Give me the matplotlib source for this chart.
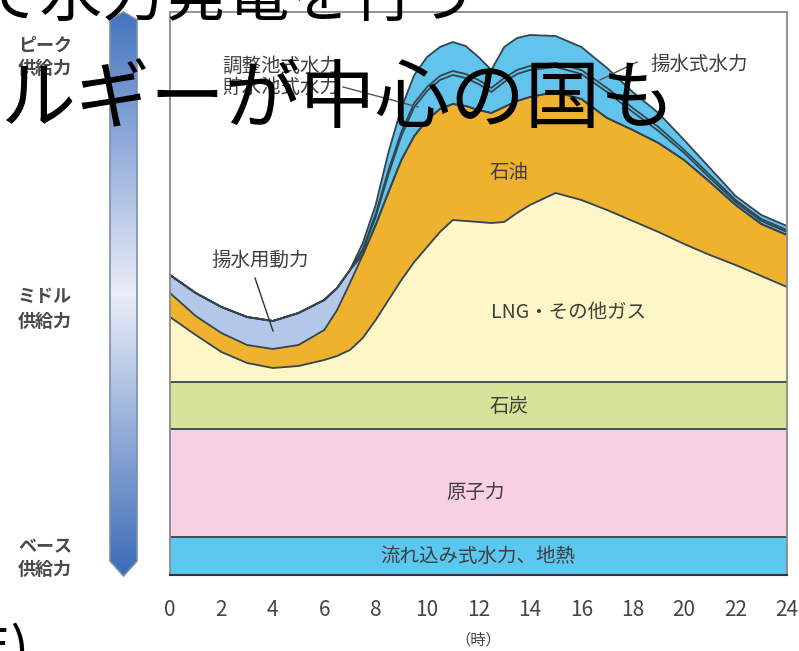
import numpy as np
import matplotlib.pyplot as plt
from matplotlib.patches import Polygon
from matplotlib.colors import LinearSegmentedColormap

plt.rcParams['font.family'] = ['Noto Sans CJK JP', 'DejaVu Sans']

# hour of day
hours = [0, 1, 2, 3, 4, 5, 6, 6.5, 7, 7.5, 8, 8.5, 9, 9.5, 10, 10.5, 11, 11.5,
         12, 12.5, 13, 13.5, 14, 15, 16, 17, 18, 19, 20, 21, 22, 23, 24]

# flat base-load bands (relative units)
run_of_river = 38
nuclear = 108
coal = 47

lng = [65, 47, 30, 19, 14, 16, 22, 26, 32, 44, 62, 82, 102, 120, 135, 150, 162, 161,
       160, 159, 160, 169, 177, 189, 182, 172, 161, 150, 138, 127, 117, 106, 95]
oil = [24, 19, 19, 18, 19, 21, 30, 46, 67, 83, 95, 108, 120, 126, 127, 123, 116, 115,
       112, 110, 115, 112, 108, 101, 101, 92, 91, 89, 84, 73, 60, 52, 52]
pumping_load = [18, 23, 26, 28, 28, 32, 30, 22, 13, 0, 0, 0, 0, 0, 0, 0, 0, 0,
                0, 0, 0, 0, 0, 0, 0, 0, 0, 0, 0, 0, 0, 0, 0]
pondage_hydro = [0, 0, 0, 0, 0, 0, 0, 0, 0, 4, 8, 18, 24, 29, 29, 29, 29, 28,
                 26, 21, 25, 27, 27, 25, 25, 26, 18, 12, 7, 4, 3, 3, 3]
reservoir_hydro = [0, 0, 0, 0, 0, 0, 0, 0, 0, 2, 3, 4, 4, 4, 4, 4, 4, 4,
                   4, 4, 4, 4, 4, 4, 4, 4, 4, 4, 3, 3, 2, 2, 2]
pumped_storage = [0, 0, 0, 0, 0, 0, 0, 0, 0, 6, 9, 18, 24, 28, 30, 29, 29, 28,
                  23, 18, 31, 32, 31, 27, 23, 20, 16, 14, 10, 7, 4, 4, 4]

x_ticks = list(range(0, 25, 2))

n = len(hours)
layers = [np.full(n, run_of_river), np.full(n, nuclear), np.full(n, coal),
          np.array(lng), np.array(oil), np.array(pumping_load),
          np.array(pondage_hydro), np.array(reservoir_hydro), np.array(pumped_storage)]
colors = ['#5cc8f0', '#f8d0e3', '#d3e397', '#fdf6c6', '#eeb22f', '#b3c7e8',
          '#62c4ec', '#62c4ec', '#62c4ec']
edge = '#33454f'

W, H = 799, 651
fig = plt.figure(figsize=(W / 100, H / 100), dpi=100)
ax = fig.add_axes([170 / W, 76 / H, 617 / W, 563 / H])

bottom = np.zeros(n)
for vals, col in zip(layers, colors):
    top = bottom + vals
    ax.fill_between(hours, bottom, top, facecolor=col, edgecolor='none', lw=0)
    ax.plot(hours, top, color=edge, lw=1.3, solid_joinstyle='round')
    bottom = top

ax.set_xlim(0, 24)
ax.set_ylim(0, 563)
ax.set_yticks([])
ax.set_xticks(x_ticks)
ax.tick_params(axis='x', length=0, pad=17, labelsize=15, labelcolor='#444444')
for s in ['left', 'top', 'right']:
    ax.spines[s].set_color('#8a8a8a')
    ax.spines[s].set_linewidth(1.3)
ax.spines['bottom'].set_color('#333333')
ax.spines['bottom'].set_linewidth(1.5)

# overlay in pixel coordinates for decorations and labels
ov = fig.add_axes([0, 0, 1, 1], zorder=5)
ov.set_xlim(0, W)
ov.set_ylim(H, 0)
ov.axis('off')
ov.patch.set_alpha(0)

# supply gradient arrow
cmap = LinearSegmentedColormap.from_list('bar', [(0, '#4474bf'), (0.5, '#eaedf8'), (1, '#3a6bb7')])
grad = np.linspace(0, 1, 256).reshape(-1, 1)
bar = Polygon([(110, 20), (123.5, 12), (137, 20), (137, 561), (123.5, 576), (110, 561)],
              closed=True, facecolor='none', edgecolor='#7f8ea6', lw=1.2)
ov.add_patch(bar)
im = ov.imshow(grad, cmap=cmap, extent=(110, 137, 576, 12), origin='upper', aspect='auto')
im.set_clip_path(bar)

lab = dict(color='#4a4a4a', fontsize=13, ha='center', va='center', fontweight='bold')
for y, t in [(45, 'ピーク'), (68, '供給力'), (296, 'ミドル'), (321, '供給力'),
             (547, 'ベース'), (569, '供給力')]:
    ov.text(45, y, t, **lab)

cl = dict(color='#3e3e3e', fontsize=14, va='center')
ov.text(509, 172, '石油', ha='center', **cl)
ov.text(569, 312, 'LNG・その他ガス', ha='center', **cl)
ov.text(509, 407, '石炭', ha='center', **cl)
ov.text(476, 492, '原子力', ha='center', **cl)
ov.text(478, 556, '流れ込み式水力、地熱', ha='center', **cl)
ov.text(260, 260, '揚水用動力', ha='center', **cl)
ov.text(222, 66, '調整池式水力', ha='left', **cl)
ov.text(222, 87, '貯水池式水力', ha='left', **cl)
ov.text(650, 64, '揚水式水力', ha='left', **cl)
ov.text(478, 640, '（時）', ha='center', va='center', color='#444444', fontsize=11)

ov.plot([255, 273], [278, 331], color='#333333', lw=1)
ov.plot([343, 418], [87, 107], color='#555555', lw=1)
ov.plot([637, 600], [62, 80], color='#555555', lw=1)

# page text overlapping the figure
ov.text(-22, -2, 'て水力発電を行う', fontsize=45, color='black', ha='left', va='center')
ov.text(0, 101, 'ルギーが中心の国も', fontsize=54, color='black', ha='left', va='center')
ov.text(30, 652, '年)', fontsize=40, color='black', ha='right', va='center')

fig.savefig('out.png', dpi=100)
